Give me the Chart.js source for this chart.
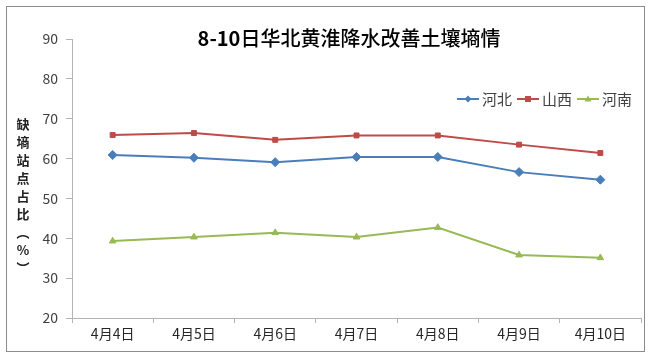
<!DOCTYPE html>
<html>
<head>
<meta charset="utf-8">
<script src="https://cdn.jsdelivr.net/npm/chart.js@4/dist/chart.umd.min.js"></script>
<style>
  html, body { margin: 0; padding: 0; background: #fff; }
  #wrap { position: relative; width: 651px; height: 359px; }
</style>
</head>
<body>
<div id="wrap"><canvas id="lineChart" width="651" height="359"></canvas></div>
<script>
// データ
const dates = ['4月4日', '4月5日', '4月6日', '4月7日', '4月8日', '4月9日', '4月10日'];
const hebei = [60.9, 60.2, 59.1, 60.4, 60.4, 56.6, 54.7];
const shanxi = [65.9, 66.4, 64.7, 65.8, 65.8, 63.5, 61.4];
const henan = [39.3, 40.3, 41.4, 40.3, 42.7, 35.8, 35.1];

const titleNum = '8-10';
const titleText = '日华北黄淮降水改善土壤墒情';
const yTitleChars = ['缺', '墒', '站', '点', '占', '比', '︵', '%', '︶'];

const FONT = '"Noto Sans CJK SC", "Liberation Sans", sans-serif';

// 枠線・タイトル・縦書き軸タイトル・凡例を描くプラグイン
const decorPlugin = {
    id: 'decor',
    beforeDraw(chart) {
        const c = chart.ctx;
        c.save();
        c.fillStyle = '#fff';
        c.fillRect(0, 0, chart.width, chart.height);
        c.strokeStyle = '#8c8c8c';
        c.lineWidth = 1;
        c.strokeRect(6.5, 6.5, 638, 345);
        c.restore();
    },
    afterDraw(chart) {
        const c = chart.ctx;
        c.save();
        // タイトル（数字は太字）
        c.fillStyle = '#000';
        c.textBaseline = 'middle';
        c.textAlign = 'left';
        c.font = 'bold 20px ' + FONT;
        const w1 = c.measureText(titleNum).width;
        c.font = '500 20px ' + FONT;
        const w2 = c.measureText(titleText).width;
        const tx = 349 - (w1 + w2) / 2;
        c.font = 'bold 20px ' + FONT;
        c.fillText(titleNum, tx, 38);
        c.font = '500 20px ' + FONT;
        c.fillText(titleText, tx + w1, 38);

        // 縦書きの軸タイトル
        c.textAlign = 'center';
        c.font = 'bold 13px ' + FONT;
        c.fillStyle = '#222';
        yTitleChars.forEach((ch, i) => {
            c.fillText(ch, 23, 124 + i * 18);
        });

        // 凡例
        c.font = '15px ' + FONT;
        c.textAlign = 'left';
        let x = 457;
        const y = 99;
        chart.data.datasets.forEach(ds => {
            c.strokeStyle = ds.borderColor;
            c.lineWidth = 2;
            c.beginPath();
            c.moveTo(x, y);
            c.lineTo(x + 22, y);
            c.stroke();
            c.fillStyle = ds.borderColor;
            const mx = x + 11;
            c.beginPath();
            if (ds.pointStyle === 'rectRot') {
                c.moveTo(mx, y - 3.5); c.lineTo(mx + 3.5, y); c.lineTo(mx, y + 3.5); c.lineTo(mx - 3.5, y);
            } else if (ds.pointStyle === 'rect') {
                c.rect(mx - 3, y - 3, 6, 6);
            } else {
                c.moveTo(mx, y - 3.5); c.lineTo(mx + 3.5, y + 2.5); c.lineTo(mx - 3.5, y + 2.5);
            }
            c.closePath();
            c.fill();
            c.fillStyle = '#404040';
            c.fillText(ds.label, x + 25, y);
            x += 25 + c.measureText(ds.label).width + 5;
        });
        c.restore();
    }
};

function makeDataset(label, data, color, style, radius) {
    return {
        label: label,
        data: data,
        borderColor: color,
        backgroundColor: color,
        borderWidth: 2,
        pointStyle: style,
        pointRadius: radius,
        pointHoverRadius: radius,
        pointBorderWidth: 1,
        tension: 0
    };
}

new Chart(document.getElementById('lineChart'), {
    type: 'line',
    data: {
        labels: dates,
        datasets: [
            makeDataset('河北', hebei, '#4a7ebb', 'rectRot', 4.5),
            makeDataset('山西', shanxi, '#be4b48', 'rect', 3.5),
            makeDataset('河南', henan, '#98b954', 'triangle', 3.8)
        ]
    },
    options: {
        responsive: false,
        animation: false,
        devicePixelRatio: 1,
        layout: { padding: { top: 39, right: 10, bottom: 11, left: 0 } },
        scales: {
            x: {
                offset: true,
                afterFit: s => { s.height = 30; },
                border: { color: '#b3b3b3', width: 1 },
                grid: { display: true, drawOnChartArea: false, drawTicks: true, tickLength: 5, color: '#b3b3b3', offset: true },
                ticks: { color: '#262626', font: { family: FONT, size: 14 }, padding: 2, maxRotation: 0 }
            },
            y: {
                min: 20,
                max: 90,
                afterFit: s => { s.width = 72; },
                border: { color: '#b3b3b3', width: 1 },
                grid: { display: true, drawOnChartArea: false, drawTicks: true, tickLength: 6, color: '#b3b3b3' },
                ticks: { stepSize: 10, color: '#404040', font: { family: FONT, size: 14 }, padding: 8 }
            }
        },
        plugins: {
            legend: { display: false },
            title: { display: false },
            tooltip: { enabled: false }
        }
    },
    plugins: [decorPlugin]
});
</script>
</body>
</html>
